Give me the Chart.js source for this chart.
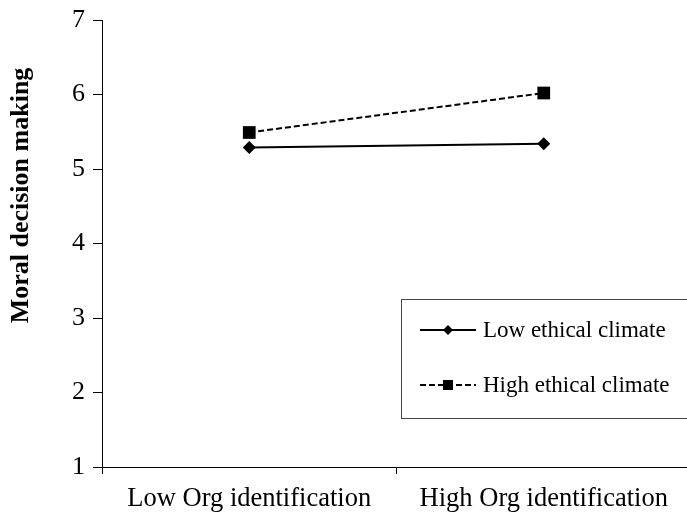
<!DOCTYPE html>
<html>
<head>
<meta charset="utf-8">
<script src="https://cdn.jsdelivr.net/npm/chart.js@4.4.1/dist/chart.umd.min.js"></script>
<style>
  html, body { margin: 0; padding: 0; background: #fff; overflow: hidden; width: 687px; height: 512px; }
  #wrap { width: 700px; height: 512px; position: relative; }
</style>
</head>
<body>
<div id="wrap"><canvas id="c" width="700" height="512"></canvas></div>
<script>
const categories = ["Low Org identification", "High Org identification"];
const lowEthicalClimate = [5.29, 5.34];
const highEthicalClimate = [5.49, 6.02];
const yTicks = [1, 2, 3, 4, 5, 6, 7];
const yTitle = "Moral decision making";
const seriesNames = ["Low ethical climate", "High ethical climate"];

const FONT = "'Liberation Serif', 'Times New Roman', serif";

const overlay = {
  id: 'overlay',
  afterDraw(chart) {
    const ctx = chart.ctx;
    // Y axis title
    ctx.save();
    ctx.fillStyle = '#000';
    ctx.font = 'bold 26px ' + FONT;
    ctx.textAlign = 'center';
    ctx.textBaseline = 'alphabetic';
    ctx.translate(28, 195.5);
    ctx.rotate(-Math.PI / 2);
    ctx.fillText(yTitle, 0, 0);
    ctx.restore();

    // Legend box
    ctx.save();
    ctx.strokeStyle = '#444';
    ctx.lineWidth = 1;
    ctx.strokeRect(401.5, 299.5, 400, 119);
    chart.data.datasets.forEach((ds, i) => {
      const y = 330 + i * 55;
      ctx.strokeStyle = ds.borderColor;
      ctx.lineWidth = ds.borderWidth;
      ctx.setLineDash(ds.borderDash || []);
      ctx.beginPath();
      ctx.moveTo(420, y);
      ctx.lineTo(476, y);
      ctx.stroke();
      ctx.setLineDash([]);
      ctx.fillStyle = ds.backgroundColor;
      const cx = 448;
      if (ds.pointStyle === 'rectRot') {
        const r = 5;
        ctx.beginPath();
        ctx.moveTo(cx, y - r);
        ctx.lineTo(cx + r, y);
        ctx.lineTo(cx, y + r);
        ctx.lineTo(cx - r, y);
        ctx.closePath();
        ctx.fill();
      } else {
        const s = 5;
        ctx.fillRect(cx - s, y - s, 2 * s, 2 * s);
      }
      ctx.fillStyle = '#000';
      ctx.font = '23px ' + FONT;
      ctx.textAlign = 'left';
      ctx.textBaseline = 'middle';
      ctx.fillText(ds.label, 483, y + 1);
    });
    ctx.restore();
  }
};

new Chart(document.getElementById('c'), {
  type: 'line',
  data: {
    labels: categories,
    datasets: [
      {
        label: seriesNames[0],
        data: lowEthicalClimate,
        borderColor: '#000',
        backgroundColor: '#000',
        borderWidth: 2,
        pointStyle: 'rectRot',
        pointRadius: 6.5,
        pointHoverRadius: 6.5,
        pointBorderWidth: 0,
        tension: 0
      },
      {
        label: seriesNames[1],
        data: highEthicalClimate,
        borderColor: '#000',
        backgroundColor: '#000',
        borderWidth: 2,
        borderDash: [6, 3],
        pointStyle: 'rect',
        pointRadius: 9,
        pointHoverRadius: 9,
        pointBorderWidth: 0,
        tension: 0
      }
    ]
  },
  options: {
    responsive: false,
    animation: false,
    events: [],
    layout: { padding: { top: 20, left: 0, right: 0, bottom: 0 } },
    plugins: {
      legend: { display: false },
      tooltip: { enabled: false },
      title: { display: false }
    },
    scales: {
      x: {
        type: 'category',
        offset: true,
        grid: { offset: true, drawOnChartArea: false, drawTicks: true, tickLength: 7, color: '#000', lineWidth: 1 },
        border: { display: true, color: '#000', width: 1 },
        ticks: { color: '#000', font: { family: FONT, size: 26.5 }, padding: 9, maxRotation: 0, autoSkip: false },
        afterFit: s => { s.height = 45; }
      },
      y: {
        min: yTicks[0],
        max: yTicks[yTicks.length - 1],
        afterBuildTicks: s => { s.ticks = yTicks.map(v => ({ value: v })); },
        grid: { drawOnChartArea: false, drawTicks: true, tickLength: 9, color: '#000', lineWidth: 1 },
        border: { display: true, color: '#000', width: 1 },
        ticks: { color: '#000', font: { family: FONT, size: 26 }, padding: 8 },
        afterFit: s => { s.width = 102; s.paddingTop = 0; s.paddingBottom = 0; }
      }
    }
  },
  plugins: [overlay]
});
</script>
</body>
</html>
